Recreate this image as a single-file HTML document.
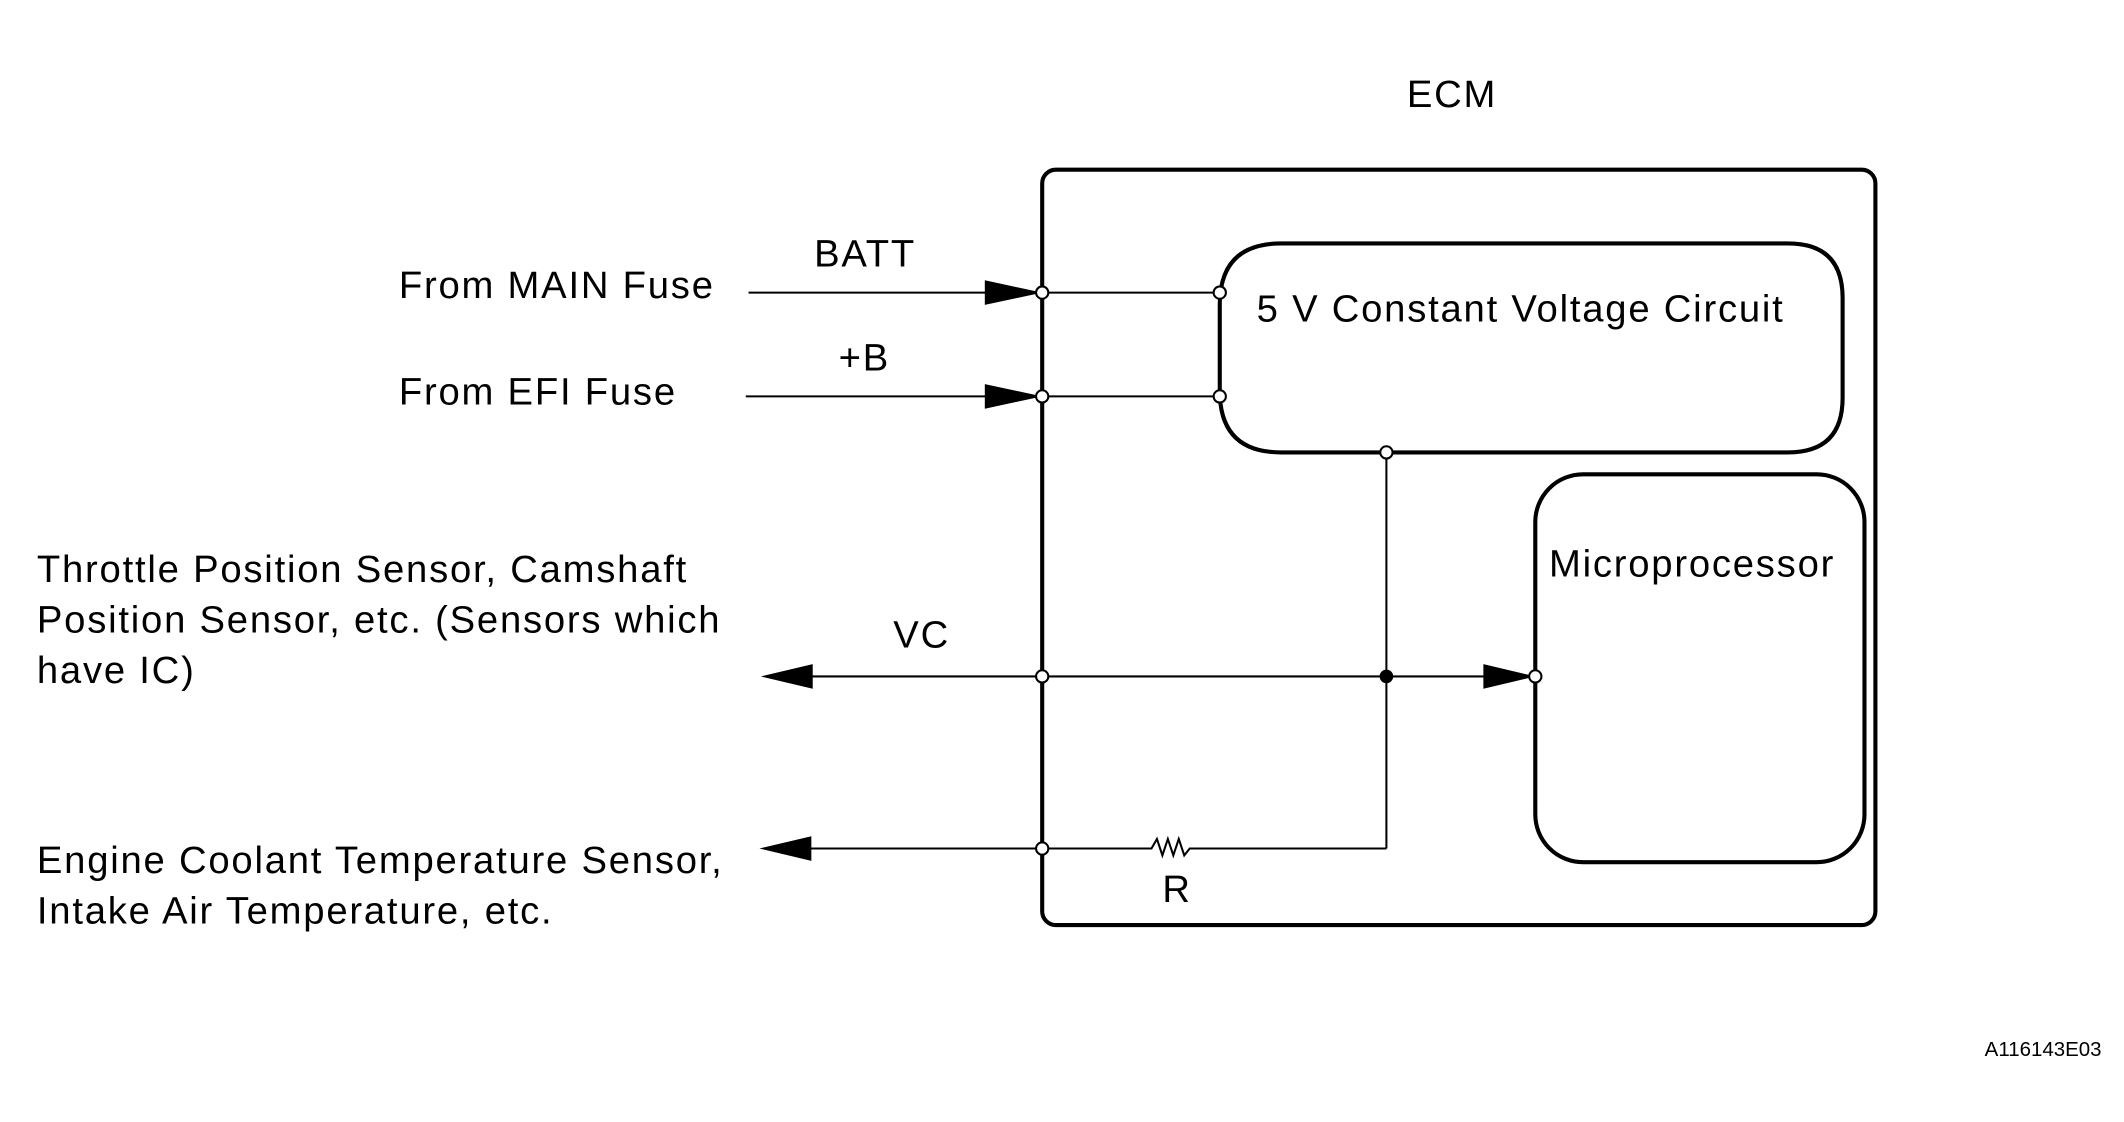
<!DOCTYPE html>
<html><head><meta charset="utf-8"><style>html,body{margin:0;padding:0;background:#fff}svg{display:block}</style></head>
<body>
<svg width="2124" height="1122" viewBox="0 0 1555 821" xmlns="http://www.w3.org/2000/svg" font-family="Liberation Sans, Arial, sans-serif" fill="#000">
<rect width="1555" height="821" fill="#fff"/>
<g fill="none" stroke="#000">
<rect x="763" y="124" width="610" height="553" rx="10" stroke-width="3"/>
<path d="M938,178 H1309 Q1349,178 1349,218 V291 Q1349,331 1309,331 H938 Q893,331 893,286 V223 Q893,178 938,178 Z" stroke-width="3"/>
<rect x="1124" y="347" width="241" height="284" rx="35" stroke-width="3"/>
<g stroke-width="1.5">
<line x1="548" y1="214" x2="725" y2="214"/><line x1="763" y1="214" x2="893" y2="214"/>
<line x1="546" y1="290" x2="725" y2="290"/><line x1="763" y1="290" x2="893" y2="290"/>
<line x1="590" y1="495" x2="1090" y2="495"/>
<line x1="1015" y1="331" x2="1015" y2="621"/>
<line x1="590" y1="621" x2="763" y2="621"/>
<polyline points="763,621 843,621 847,614 851,626 855,614 859,626 863,614 867,626 871,621 1015,621"/>
</g>
</g>
<g>
<polygon points="763,214 721,205 721,223"/>
<polygon points="763,290 721,281 721,299"/>
<polygon points="557,495 595,486 595,504"/>
<polygon points="556,621 594,612 594,630"/>
<polygon points="1124,495 1086,486 1086,504"/>
<circle cx="1015" cy="495" r="5"/>
</g>
<g fill="#fff" stroke="#000" stroke-width="1.5">
<circle cx="763" cy="214" r="4.5"/><circle cx="893" cy="214" r="4.5"/>
<circle cx="763" cy="290" r="4.5"/><circle cx="893" cy="290" r="4.5"/>
<circle cx="763" cy="495" r="4.5"/><circle cx="1124" cy="495" r="4.5"/>
<circle cx="763" cy="621" r="4.5"/><circle cx="1015" cy="331" r="4.5"/>
</g>
<g font-size="28" letter-spacing="1.3">
<text x="1030" y="78">ECM</text>
<text x="920" y="235">5 V Constant Voltage Circuit</text>
<text x="1134" y="422">Microprocessor</text>
<text x="292" y="218">From MAIN Fuse</text>
<text x="292" y="296">From EFI Fuse</text>
<text x="596" y="195">BATT</text>
<text x="614" y="271">+B</text>
<text x="654" y="474">VC</text>
<text x="851" y="660">R</text>
<text x="27" y="426">Throttle Position Sensor, Camshaft</text>
<text x="27" y="463">Position Sensor, etc. (Sensors which</text>
<text x="27" y="500">have IC)</text>
<text x="27" y="639">Engine Coolant Temperature Sensor,</text>
<text x="27" y="676">Intake Air Temperature, etc.</text>
</g>
<text x="1453" y="773" font-size="15">A116143E03</text>
</svg>
</body></html>
